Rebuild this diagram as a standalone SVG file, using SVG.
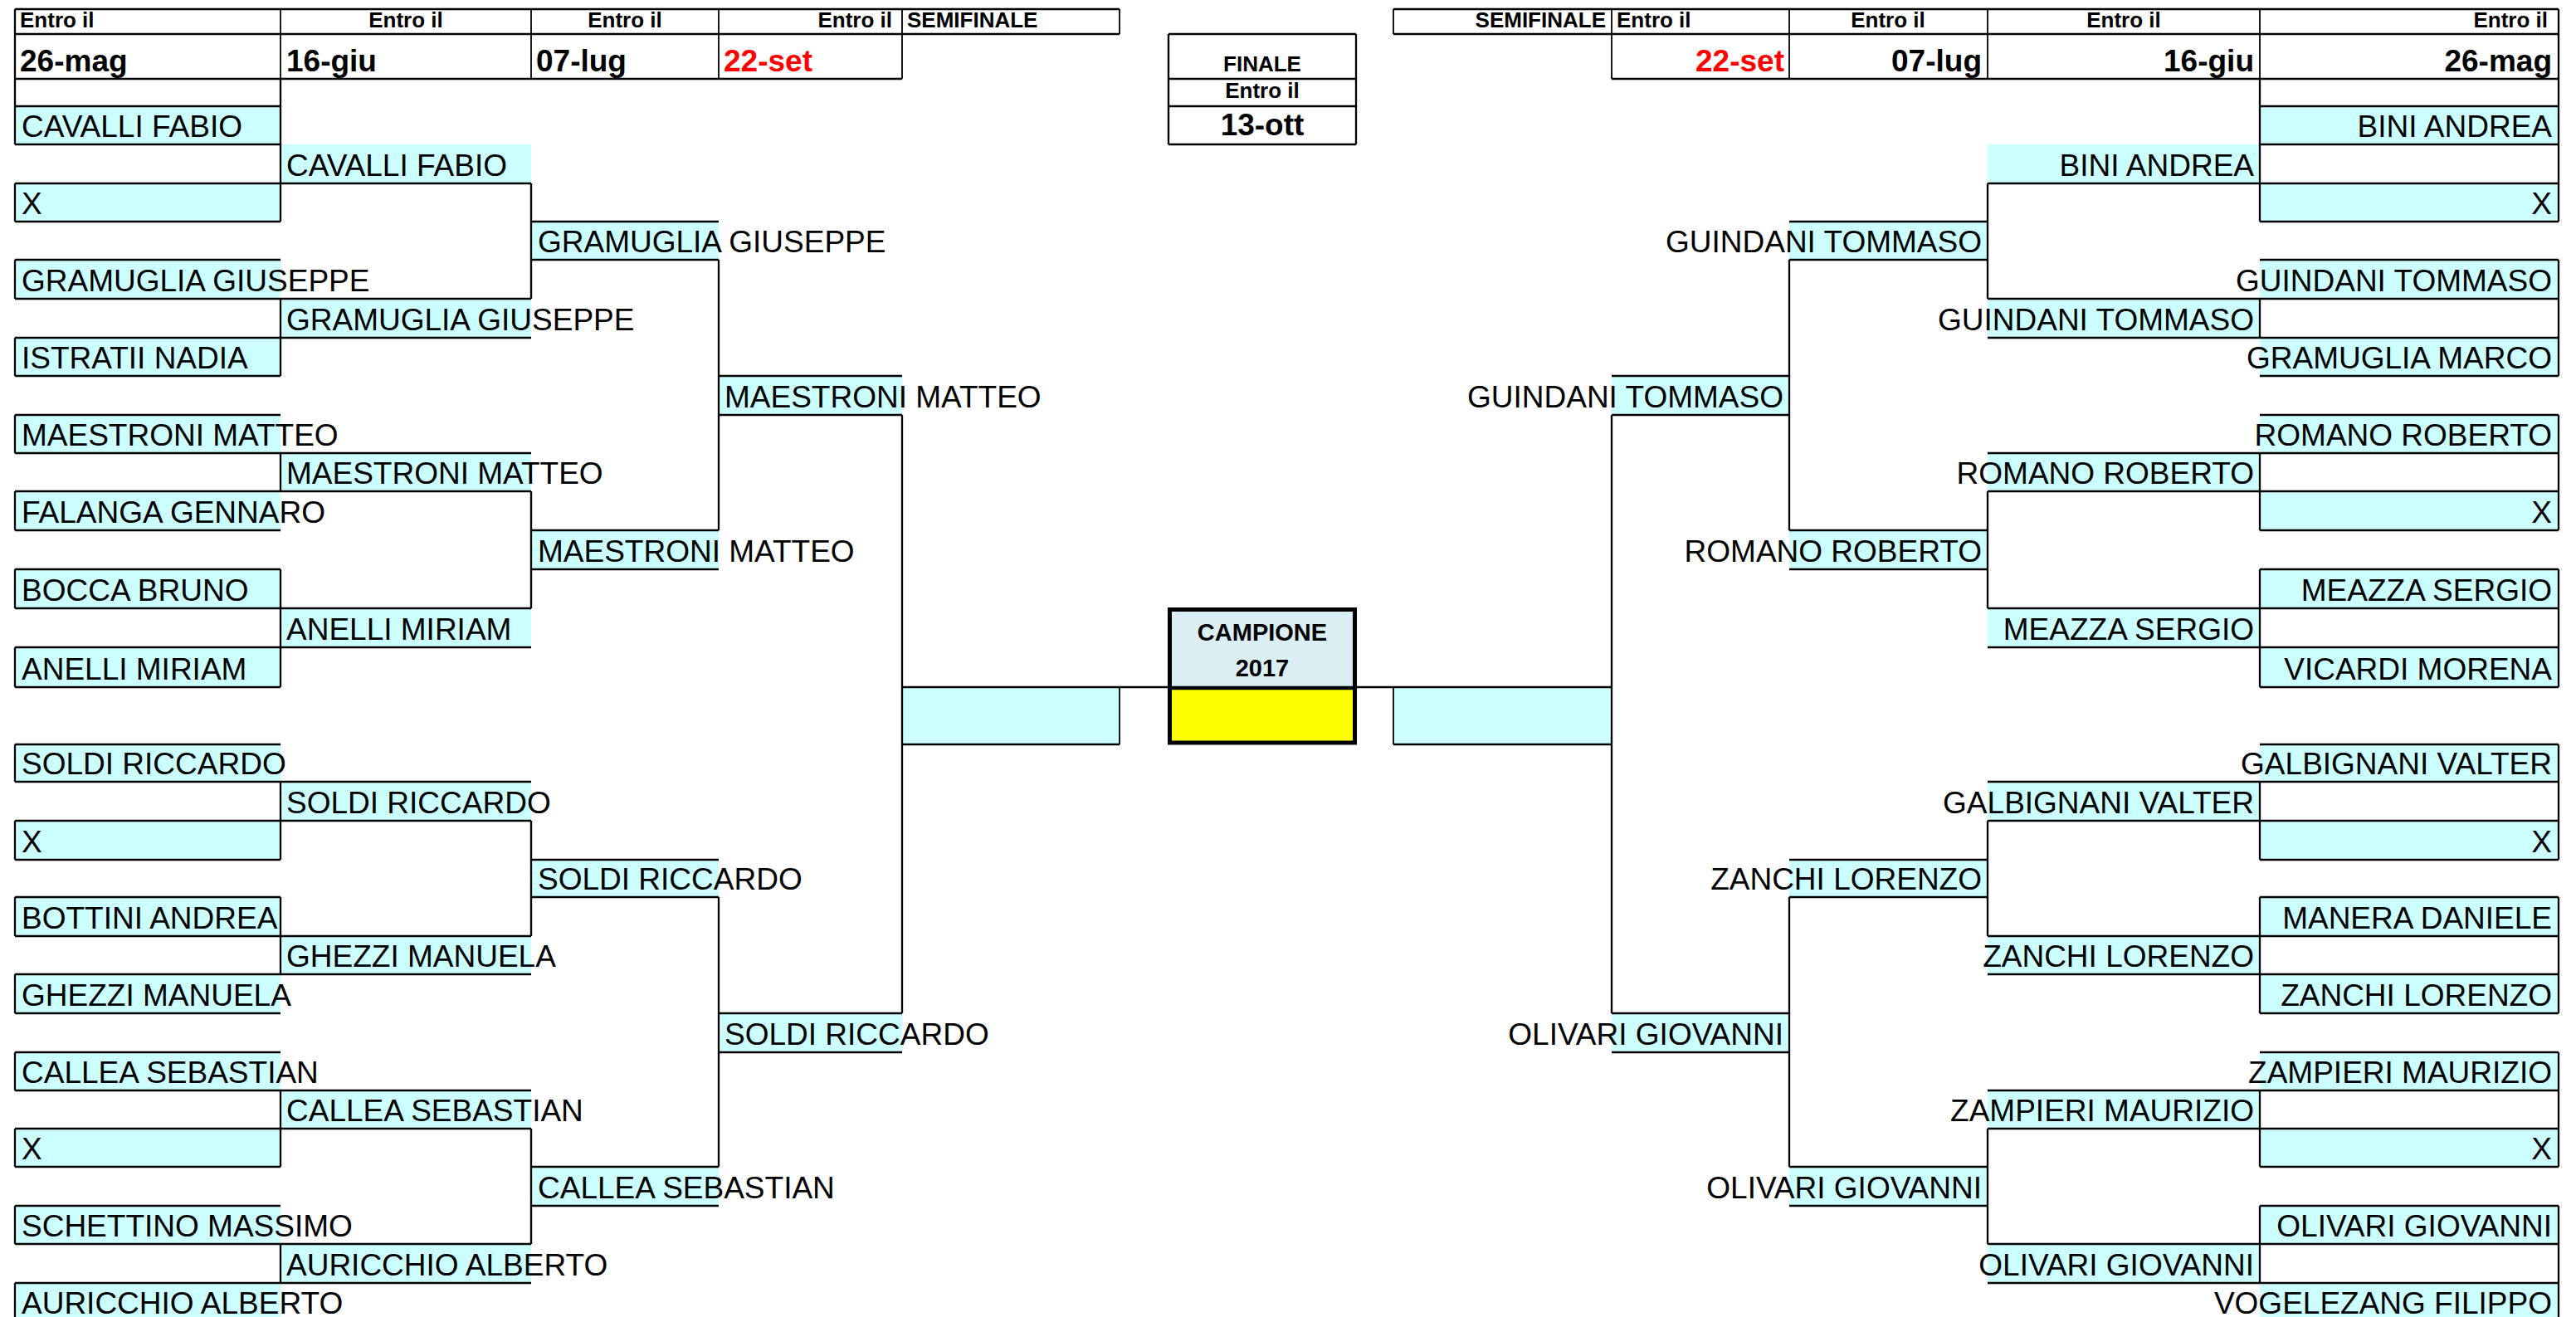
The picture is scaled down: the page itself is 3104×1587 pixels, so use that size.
<svg xmlns="http://www.w3.org/2000/svg" width="3104" height="1587" viewBox="0 0 3104 1587">
<style>
.c{fill:#CCFFFF}
.h{stroke:#000;stroke-width:2.7;fill:none}
.v{stroke:#000;stroke-width:2.3;fill:none}
.t{stroke:#000;stroke-width:1.8;fill:none}
text{font-family:"Liberation Sans",Arial,sans-serif;fill:#000}
.n{font-size:37px}
.e{text-anchor:end}
.m{text-anchor:middle}
.hb{font-size:26px;font-weight:bold}
.db{font-size:37px;font-weight:bold}
.red{fill:#FF0000}
</style>
<rect x="0" y="0" width="3104" height="1587" fill="#FFFFFF"/>

<g id="header-left">
<text class="hb" x="24" y="33">Entro il</text>
<text class="hb m" x="489" y="33">Entro il</text>
<text class="hb m" x="753" y="33">Entro il</text>
<text class="hb e" x="1075" y="33">Entro il</text>
<text class="hb" x="1093" y="33">SEMIFINALE</text>
<text class="db" x="24" y="86">26-mag</text>
<text class="db" x="345" y="86">16-giu</text>
<text class="db" x="646" y="86">07-lug</text>
<text class="db red" x="872" y="86">22-set</text>
</g>
<g id="header-right">
<text class="hb e" x="1935" y="33">SEMIFINALE</text>
<text class="hb" x="1948" y="33">Entro il</text>
<text class="hb m" x="2275" y="33">Entro il</text>
<text class="hb m" x="2559" y="33">Entro il</text>
<text class="hb e" x="3070" y="33">Entro il</text>
<text class="db e red" x="2150" y="86">22-set</text>
<text class="db e" x="2388" y="86">07-lug</text>
<text class="db e" x="2716" y="86">16-giu</text>
<text class="db e" x="3075" y="86">26-mag</text>
</g>
<g id="finale">
<rect x="1408" y="41" width="226" height="133" fill="#FFFFFF"/>
<text class="hb m" x="1521" y="86">FINALE</text>
<text class="hb m" x="1521" y="118">Entro il</text>
<text class="db m" x="1521" y="163">13-ott</text>
<path class="h" d="M1408 41H1634M1408 95H1634M1408 128H1634M1408 174H1634"/>
<path class="v" d="M1408 41V174M1634 41V174"/>
</g>

<g id="L-A0"><rect class="c" x="18" y="128" width="320" height="46"/><text class="n" x="26" y="165">CAVALLI FABIO</text></g>
<g id="L-A2"><rect class="c" x="18" y="221" width="320" height="46"/><text class="n" x="26" y="258">X</text></g>
<g id="L-A4"><rect class="c" x="18" y="313" width="320" height="47"/><text class="n" x="26" y="351">GRAMUGLIA GIUSEPPE</text></g>
<g id="L-A6"><rect class="c" x="18" y="407" width="320" height="46"/><text class="n" x="26" y="444">ISTRATII NADIA</text></g>
<g id="L-A8"><rect class="c" x="18" y="500" width="320" height="46"/><text class="n" x="26" y="537">MAESTRONI MATTEO</text></g>
<g id="L-A10"><rect class="c" x="18" y="592" width="320" height="47"/><text class="n" x="26" y="630">FALANGA GENNARO</text></g>
<g id="L-A12"><rect class="c" x="18" y="686" width="320" height="47"/><text class="n" x="26" y="724">BOCCA BRUNO</text></g>
<g id="L-A14"><rect class="c" x="18" y="780" width="320" height="48"/><text class="n" x="26" y="819">ANELLI MIRIAM</text></g>
<g id="L-A16"><rect class="c" x="18" y="897" width="320" height="45"/><text class="n" x="26" y="933">SOLDI RICCARDO</text></g>
<g id="L-A18"><rect class="c" x="18" y="989" width="320" height="47"/><text class="n" x="26" y="1027">X</text></g>
<g id="L-A20"><rect class="c" x="18" y="1081" width="320" height="47"/><text class="n" x="26" y="1119">BOTTINI ANDREA</text></g>
<g id="L-A22"><rect class="c" x="18" y="1174" width="320" height="47"/><text class="n" x="26" y="1212">GHEZZI MANUELA</text></g>
<g id="L-A24"><rect class="c" x="18" y="1268" width="320" height="46"/><text class="n" x="26" y="1305">CALLEA SEBASTIAN</text></g>
<g id="L-A26"><rect class="c" x="18" y="1360" width="320" height="46"/><text class="n" x="26" y="1397">X</text></g>
<g id="L-A28"><rect class="c" x="18" y="1453" width="320" height="46"/><text class="n" x="26" y="1490">SCHETTINO MASSIMO</text></g>
<g id="L-A30"><rect class="c" x="18" y="1546" width="320" height="46"/><text class="n" x="26" y="1583">AURICCHIO ALBERTO</text></g>

<g id="L-B1"><rect class="c" x="338" y="174" width="302" height="47"/><text class="n" x="345" y="212">CAVALLI FABIO</text></g>
<g id="L-B5"><rect class="c" x="338" y="360" width="302" height="47"/><text class="n" x="345" y="398">GRAMUGLIA GIUSEPPE</text></g>
<g id="L-B9"><rect class="c" x="338" y="546" width="302" height="46"/><text class="n" x="345" y="583">MAESTRONI MATTEO</text></g>
<g id="L-B13"><rect class="c" x="338" y="733" width="302" height="47"/><text class="n" x="345" y="771">ANELLI MIRIAM</text></g>
<g id="L-B17"><rect class="c" x="338" y="942" width="302" height="47"/><text class="n" x="345" y="980">SOLDI RICCARDO</text></g>
<g id="L-B21"><rect class="c" x="338" y="1128" width="302" height="46"/><text class="n" x="345" y="1165">GHEZZI MANUELA</text></g>
<g id="L-B25"><rect class="c" x="338" y="1314" width="302" height="46"/><text class="n" x="345" y="1351">CALLEA SEBASTIAN</text></g>
<g id="L-B29"><rect class="c" x="338" y="1499" width="302" height="47"/><text class="n" x="345" y="1537">AURICCHIO ALBERTO</text></g>

<g id="L-C3"><rect class="c" x="640" y="267" width="226" height="46"/><text class="n" x="648" y="304">GRAMUGLIA GIUSEPPE</text></g>
<g id="L-C11"><rect class="c" x="640" y="639" width="226" height="47"/><text class="n" x="648" y="677">MAESTRONI MATTEO</text></g>
<g id="L-C19"><rect class="c" x="640" y="1036" width="226" height="45"/><text class="n" x="648" y="1072">SOLDI RICCARDO</text></g>
<g id="L-C27"><rect class="c" x="640" y="1406" width="226" height="47"/><text class="n" x="648" y="1444">CALLEA SEBASTIAN</text></g>

<g id="L-D7"><rect class="c" x="866" y="453" width="221" height="47"/><text class="n" x="873" y="491">MAESTRONI MATTEO</text></g>
<g id="L-D23"><rect class="c" x="866" y="1221" width="221" height="47"/><text class="n" x="873" y="1259">SOLDI RICCARDO</text></g>

<g id="L-semi"><rect class="c" x="1087" y="828" width="262" height="69"/></g>

<g id="R-A0"><rect class="c" x="2723" y="128" width="360" height="46"/><text class="n e" x="3075" y="165">BINI ANDREA</text></g>
<g id="R-A2"><rect class="c" x="2723" y="221" width="360" height="46"/><text class="n e" x="3075" y="258">X</text></g>
<g id="R-A4"><rect class="c" x="2723" y="313" width="360" height="47"/><text class="n e" x="3075" y="351">GUINDANI TOMMASO</text></g>
<g id="R-A6"><rect class="c" x="2723" y="407" width="360" height="46"/><text class="n e" x="3075" y="444">GRAMUGLIA MARCO</text></g>
<g id="R-A8"><rect class="c" x="2723" y="500" width="360" height="46"/><text class="n e" x="3075" y="537">ROMANO ROBERTO</text></g>
<g id="R-A10"><rect class="c" x="2723" y="592" width="360" height="47"/><text class="n e" x="3075" y="630">X</text></g>
<g id="R-A12"><rect class="c" x="2723" y="686" width="360" height="47"/><text class="n e" x="3075" y="724">MEAZZA SERGIO</text></g>
<g id="R-A14"><rect class="c" x="2723" y="780" width="360" height="48"/><text class="n e" x="3075" y="819">VICARDI MORENA</text></g>
<g id="R-A16"><rect class="c" x="2723" y="897" width="360" height="45"/><text class="n e" x="3075" y="933">GALBIGNANI VALTER</text></g>
<g id="R-A18"><rect class="c" x="2723" y="989" width="360" height="47"/><text class="n e" x="3075" y="1027">X</text></g>
<g id="R-A20"><rect class="c" x="2723" y="1081" width="360" height="47"/><text class="n e" x="3075" y="1119">MANERA DANIELE</text></g>
<g id="R-A22"><rect class="c" x="2723" y="1174" width="360" height="47"/><text class="n e" x="3075" y="1212">ZANCHI LORENZO</text></g>
<g id="R-A24"><rect class="c" x="2723" y="1268" width="360" height="46"/><text class="n e" x="3075" y="1305">ZAMPIERI MAURIZIO</text></g>
<g id="R-A26"><rect class="c" x="2723" y="1360" width="360" height="46"/><text class="n e" x="3075" y="1397">X</text></g>
<g id="R-A28"><rect class="c" x="2723" y="1453" width="360" height="46"/><text class="n e" x="3075" y="1490">OLIVARI GIOVANNI</text></g>
<g id="R-A30"><rect class="c" x="2723" y="1546" width="360" height="46"/><text class="n e" x="3075" y="1583">VOGELEZANG FILIPPO</text></g>

<g id="R-B1"><rect class="c" x="2395" y="174" width="328" height="47"/><text class="n e" x="2716" y="212">BINI ANDREA</text></g>
<g id="R-B5"><rect class="c" x="2395" y="360" width="328" height="47"/><text class="n e" x="2716" y="398">GUINDANI TOMMASO</text></g>
<g id="R-B9"><rect class="c" x="2395" y="546" width="328" height="46"/><text class="n e" x="2716" y="583">ROMANO ROBERTO</text></g>
<g id="R-B13"><rect class="c" x="2395" y="733" width="328" height="47"/><text class="n e" x="2716" y="771">MEAZZA SERGIO</text></g>
<g id="R-B17"><rect class="c" x="2395" y="942" width="328" height="47"/><text class="n e" x="2716" y="980">GALBIGNANI VALTER</text></g>
<g id="R-B21"><rect class="c" x="2395" y="1128" width="328" height="46"/><text class="n e" x="2716" y="1165">ZANCHI LORENZO</text></g>
<g id="R-B25"><rect class="c" x="2395" y="1314" width="328" height="46"/><text class="n e" x="2716" y="1351">ZAMPIERI MAURIZIO</text></g>
<g id="R-B29"><rect class="c" x="2395" y="1499" width="328" height="47"/><text class="n e" x="2716" y="1537">OLIVARI GIOVANNI</text></g>

<g id="R-C3"><rect class="c" x="2156" y="267" width="239" height="46"/><text class="n e" x="2388" y="304">GUINDANI TOMMASO</text></g>
<g id="R-C11"><rect class="c" x="2156" y="639" width="239" height="47"/><text class="n e" x="2388" y="677">ROMANO ROBERTO</text></g>
<g id="R-C19"><rect class="c" x="2156" y="1036" width="239" height="45"/><text class="n e" x="2388" y="1072">ZANCHI LORENZO</text></g>
<g id="R-C27"><rect class="c" x="2156" y="1406" width="239" height="47"/><text class="n e" x="2388" y="1444">OLIVARI GIOVANNI</text></g>

<g id="R-D7"><rect class="c" x="1942" y="453" width="214" height="47"/><text class="n e" x="2149" y="491">GUINDANI TOMMASO</text></g>
<g id="R-D23"><rect class="c" x="1942" y="1221" width="214" height="47"/><text class="n e" x="2149" y="1259">OLIVARI GIOVANNI</text></g>

<g id="R-semi"><rect class="c" x="1679" y="828" width="263" height="69"/></g>

<g id="connectors">
<path class="h" d="M18 11H1349M18 41H1349M18 95H1087M1679 11H3083M1679 41H3083M1942 95H3083"/>
<path class="t" d="M338 11V95M640 11V95M866 11V95M1087 11V95M1349 11V41M2723 11V95M2395 11V95M2156 11V95M1942 11V95M1679 11V41"/>
<path class="h" d="M18 128H338M18 174H338M18 221H640M18 267H338M18 313H338M18 360H640M18 407H640M18 453H338M18 500H338M18 546H640M18 592H640M18 639H338M18 686H338M18 733H640M18 780H640M18 828H338M18 897H338M18 942H640M18 989H640M18 1036H338M18 1081H338M18 1128H640M18 1174H640M18 1221H338M18 1268H338M18 1314H640M18 1360H640M18 1406H338M18 1453H338M18 1499H640M18 1546H640"/>
<path class="h" d="M640 267H866M640 313H866M640 639H866M640 686H866M640 1036H866M640 1081H866M640 1406H866M640 1453H866M866 453H1087M866 500H1087M866 1221H1087M866 1268H1087M1087 828H1407M1087 897H1349"/>
<path class="v" d="M18 11V174M18 221V267M18 313V360M18 407V453M18 500V546M18 592V639M18 686V733M18 780V828M18 897V942M18 989V1036M18 1081V1128M18 1174V1221M18 1268V1314M18 1360V1406M18 1453V1499M18 1546V1592"/>
<path class="v" d="M338 95V267M338 360V453M338 546V592M338 686V828M338 942V1036M338 1081V1174M338 1314V1406M338 1499V1546"/>
<path class="v" d="M640 221V360M640 592V733M640 989V1128M640 1360V1499M866 313V639M866 1081V1406M1087 500V1221"/>
<path class="t" d="M1349 828V897"/>
<path class="h" d="M2723 128H3083M2723 174H3083M2395 221H3083M2723 267H3083M2723 313H3083M2395 360H3083M2395 407H3083M2723 453H3083M2723 500H3083M2395 546H3083M2395 592H3083M2723 639H3083M2723 686H3083M2395 733H3083M2395 780H3083M2723 828H3083M2723 897H3083M2395 942H3083M2395 989H3083M2723 1036H3083M2723 1081H3083M2395 1128H3083M2395 1174H3083M2723 1221H3083M2723 1268H3083M2395 1314H3083M2395 1360H3083M2723 1406H3083M2723 1453H3083M2395 1499H3083M2395 1546H3083"/>
<path class="h" d="M2156 267H2395M2156 313H2395M2156 639H2395M2156 686H2395M2156 1036H2395M2156 1081H2395M2156 1406H2395M2156 1453H2395M1942 453H2156M1942 500H2156M1942 1221H2156M1942 1268H2156M1635 828H1942M1679 897H1942"/>
<path class="v" d="M3083 11V267M3083 313V453M3083 500V639M3083 686V828M3083 897V1036M3083 1081V1221M3083 1268V1406M3083 1453V1592"/>
<path class="v" d="M2723 95V267M2723 360V407M2723 546V639M2723 686V828M2723 942V1036M2723 1081V1221M2723 1314V1406M2723 1453V1546"/>
<path class="v" d="M2395 221V360M2395 592V733M2395 989V1128M2395 1360V1499M2156 313V639M2156 1081V1406M1942 500V1221"/>
<path class="t" d="M1679 828V897"/>
</g>

<g id="campione">
<rect x="1409.5" y="734.5" width="223" height="94" fill="#DAEEF3"/>
<rect x="1409.5" y="828.5" width="223" height="66.5" fill="#FFFF00"/>
<rect x="1409.5" y="734.5" width="223" height="160.5" fill="none" stroke="#000" stroke-width="5"/>
<path d="M1409.5 829H1632.5" stroke="#000" stroke-width="4.5"/>
<text class="m" x="1521" y="772" font-size="29" font-weight="bold">CAMPIONE</text>
<text class="m" x="1521" y="815" font-size="29" font-weight="bold">2017</text>
</g>
</svg>
